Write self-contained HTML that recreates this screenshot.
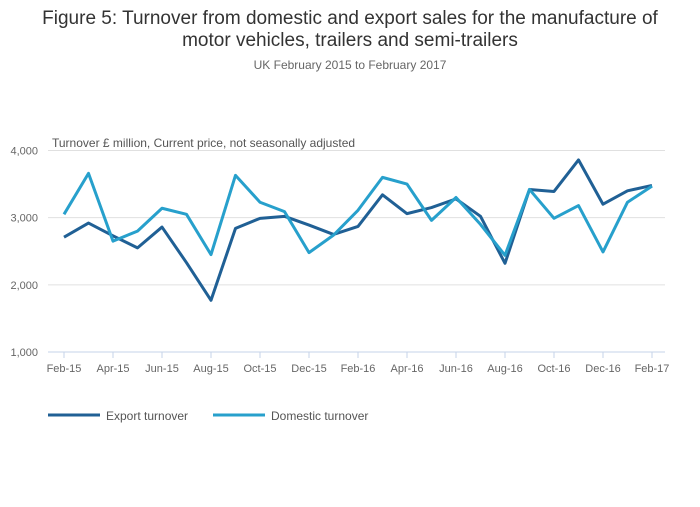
<!DOCTYPE html>
<html><head><meta charset="utf-8"><style>
body{margin:0;background:#fff;font-family:"Liberation Sans",sans-serif}
</style></head><body>
<svg width="700" height="502" viewBox="0 0 700 502" xmlns="http://www.w3.org/2000/svg">
<text x="350" y="24" text-anchor="middle" font-size="19" fill="#333">Figure 5: Turnover from domestic and export sales for the manufacture of</text>
<text x="350" y="46" text-anchor="middle" font-size="19" fill="#333">motor vehicles, trailers and semi-trailers</text>
<text x="350" y="69" text-anchor="middle" font-size="12" fill="#666">UK February 2015 to February 2017</text>
<text x="52" y="147" font-size="12" fill="#555">Turnover £ million, Current price, not seasonally adjusted</text>
<g id="grid"></g><g id="xax"></g><g id="lines"></g>
<g>
<g><line x1="48" y1="415" x2="100" y2="415" stroke="#206095" stroke-width="3"/><text x="106" y="420" font-size="12" fill="#555">Export turnover</text></g>
<g><line x1="213" y1="415" x2="265" y2="415" stroke="#27a0cc" stroke-width="3"/><text x="271" y="420" font-size="12" fill="#555">Domestic turnover</text></g>
</g>
</svg>
<script>
const months=["Feb-15","Mar-15","Apr-15","May-15","Jun-15","Jul-15","Aug-15","Sep-15","Oct-15","Nov-15","Dec-15","Jan-16","Feb-16","Mar-16","Apr-16","May-16","Jun-16","Jul-16","Aug-16","Sep-16","Oct-16","Nov-16","Dec-16","Jan-17","Feb-17"];
const exportVals=[2710,2920,2730,2550,2860,2330,1770,2840,2990,3020,2890,2750,2870,3340,3060,3150,3280,3020,2320,3420,3390,3860,3200,3400,3480];
const domesticVals=[3050,3660,2650,2800,3140,3050,2450,3630,3230,3090,2480,2740,3110,3600,3500,2960,3300,2900,2440,3420,2990,3180,2490,3230,3470];
const yTicks=[1000,2000,3000,4000];
const NS="http://www.w3.org/2000/svg";
const x0=64,x1=652,yTop=150.5,yBot=352;
const xs=i=>x0+i*(x1-x0)/(months.length-1);
const ys=v=>yBot-(v-1000)*(yBot-yTop)/3000;
function mk(t,a,p){const e=document.createElementNS(NS,t);for(const k in a)e.setAttribute(k,a[k]);p.appendChild(e);return e;}
const grid=document.getElementById('grid');
yTicks.forEach(v=>{
 if(v>1000){const l=mk('line',{x1:48,x2:665,y1:ys(v),y2:ys(v),stroke:'#e0e0e0'},grid);
 
 }
 const t=mk('text',{x:38,y:ys(v)+4,'text-anchor':'end','font-size':11,fill:'#666'},grid);
 t.textContent=v.toLocaleString('en-GB');
 
 
});
const xax=document.getElementById('xax');
const ax=mk('line',{x1:48,x2:665,y1:yBot,y2:yBot,stroke:'#c5d3e8'},xax);


months.forEach((m,i)=>{if(i%2)return;
 const tk=mk('line',{x1:xs(i),x2:xs(i),y1:yBot,y2:yBot+6,stroke:'#c5d3e8'},xax);
 
 
 const t=mk('text',{x:xs(i),y:372,'text-anchor':'middle','font-size':11,fill:'#666'},xax);
 t.textContent=m;
 
 
});
const lines=document.getElementById('lines');
[[exportVals,'#206095','export-line'],[domesticVals,'#27a0cc','domestic-line']].forEach(([d,c,n])=>{
 const p=mk('polyline',{points:d.map((v,i)=>xs(i)+','+ys(v)).join(' '),fill:'none',stroke:c,'stroke-width':3,'stroke-linejoin':'round'},lines);
 
 
});
</script>
</body></html>
